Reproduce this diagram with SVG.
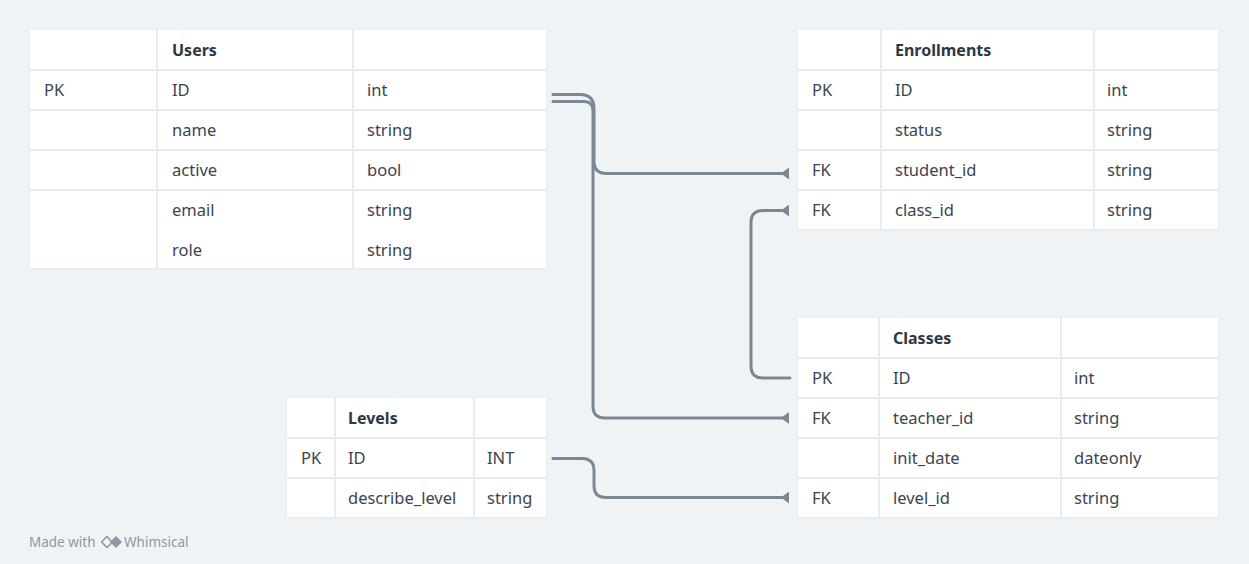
<svg xmlns="http://www.w3.org/2000/svg" width="1249" height="564" viewBox="0 0 1249 564">
<style>
.bg{fill:#f0f3f6}
.tbl{fill:#ffffff;filter:url(#sh)}
.sep{stroke:#e8ecf0;stroke-width:2;fill:none}
.t{font-family:"Noto Sans","Liberation Sans",sans-serif;font-size:16.5px;fill:#3b4450}
.h{font-family:"Noto Sans","Liberation Sans",sans-serif;font-size:16px;font-weight:bold;fill:#2f3742}
.conn{stroke:#7a8896;stroke-width:3;fill:none;stroke-linecap:round}
.wm{font-family:"Noto Sans","Liberation Sans",sans-serif;font-size:13.5px;fill:#8d98a4}
</style>
<defs>
<filter id="sh" x="-5%" y="-5%" width="110%" height="110%">
<feDropShadow dx="0" dy="1" stdDeviation="1" flood-color="#5a6878" flood-opacity="0.08"/>
</filter>
<marker id="fk" markerUnits="userSpaceOnUse" viewBox="0 0 8 12" refX="4" refY="6" markerWidth="8" markerHeight="12" orient="auto">
<path d="M8,0 L8,12 L0,6 Z" fill="#7a8896"/>
</marker>
</defs>
<rect class="bg" x="0" y="0" width="1249" height="564"/>

<g id="users">
<rect class="tbl" x="30" y="30" width="516" height="238"/>
<path class="sep" d="M30,70 H546 M30,110 H546 M30,150 H546 M30,190 H546 M157,30 V268 M353,30 V268"/>
<text class="h" x="172" y="56">Users</text>
<text class="t" x="44" y="96">PK</text><text class="t" x="172" y="96">ID</text><text class="t" x="367" y="96">int</text>
<text class="t" x="172" y="136">name</text><text class="t" x="367" y="136">string</text>
<text class="t" x="172" y="176">active</text><text class="t" x="367" y="176">bool</text>
<text class="t" x="172" y="216">email</text><text class="t" x="367" y="216">string</text>
<text class="t" x="172" y="256">role</text><text class="t" x="367" y="256">string</text>
</g>

<g id="enrollments">
<rect class="tbl" x="798" y="30" width="420" height="199"/>
<path class="sep" d="M798,70 H1218 M798,110 H1218 M798,150 H1218 M798,190 H1218 M881,30 V229 M1094,30 V229"/>
<text class="h" x="895" y="56">Enrollments</text>
<text class="t" x="812" y="96">PK</text><text class="t" x="895" y="96">ID</text><text class="t" x="1107" y="96">int</text>
<text class="t" x="895" y="136">status</text><text class="t" x="1107" y="136">string</text>
<text class="t" x="812" y="176">FK</text><text class="t" x="895" y="176">student_id</text><text class="t" x="1107" y="176">string</text>
<text class="t" x="812" y="216">FK</text><text class="t" x="895" y="216">class_id</text><text class="t" x="1107" y="216">string</text>
</g>

<g id="classes">
<rect class="tbl" x="798" y="318" width="420" height="199"/>
<path class="sep" d="M798,358 H1218 M798,398 H1218 M798,438 H1218 M798,478 H1218 M879,318 V517 M1061,318 V517"/>
<text class="h" x="893" y="344">Classes</text>
<text class="t" x="812" y="384">PK</text><text class="t" x="893" y="384">ID</text><text class="t" x="1074" y="384">int</text>
<text class="t" x="812" y="424">FK</text><text class="t" x="893" y="424">teacher_id</text><text class="t" x="1074" y="424">string</text>
<text class="t" x="893" y="464">init_date</text><text class="t" x="1074" y="464">dateonly</text>
<text class="t" x="812" y="504">FK</text><text class="t" x="893" y="504">level_id</text><text class="t" x="1074" y="504">string</text>
</g>

<g id="levels">
<rect class="tbl" x="287" y="398" width="259" height="119"/>
<path class="sep" d="M287,438 H546 M287,478 H546 M335,398 V517 M474,398 V517"/>
<text class="h" x="348" y="424">Levels</text>
<text class="t" x="301" y="464">PK</text><text class="t" x="348" y="464">ID</text><text class="t" x="487" y="464">INT</text>
<text class="t" x="348" y="504">describe_level</text><text class="t" x="487" y="504">string</text>
</g>

<g id="connectors">
<path class="conn" marker-end="url(#fk)" d="M553,94.5 H580 Q594,94.5 594,108.5 V161 Q594,173.5 606.5,173.5 H785"/>
<path class="conn" marker-end="url(#fk)" d="M553,101.5 H584 Q593,101.5 593,110.5 V406 Q593,418 605,418 H785"/>
<path class="conn" marker-end="url(#fk)" d="M790,378 H763 Q751,378 751,366 V222.5 Q751,210.5 763,210.5 H785"/>
<path class="conn" marker-end="url(#fk)" d="M553,458.5 H582 Q594,458.5 594,470.5 V485.5 Q594,497.5 606,497.5 H785"/>
</g>

<g id="watermark">
<text class="wm" x="29" y="547">Made with</text>
<path d="M107,536.5 L101.5,542 L107,547.5 L112,542.5 Z" fill="none" stroke="#8d98a4" stroke-width="1.6" stroke-linejoin="round"/>
<path d="M116,536 L122,542 L116,548 L110,542 Z" fill="#8d98a4"/>
<text class="wm" x="124" y="547">Whimsical</text>
</g>
</svg>
